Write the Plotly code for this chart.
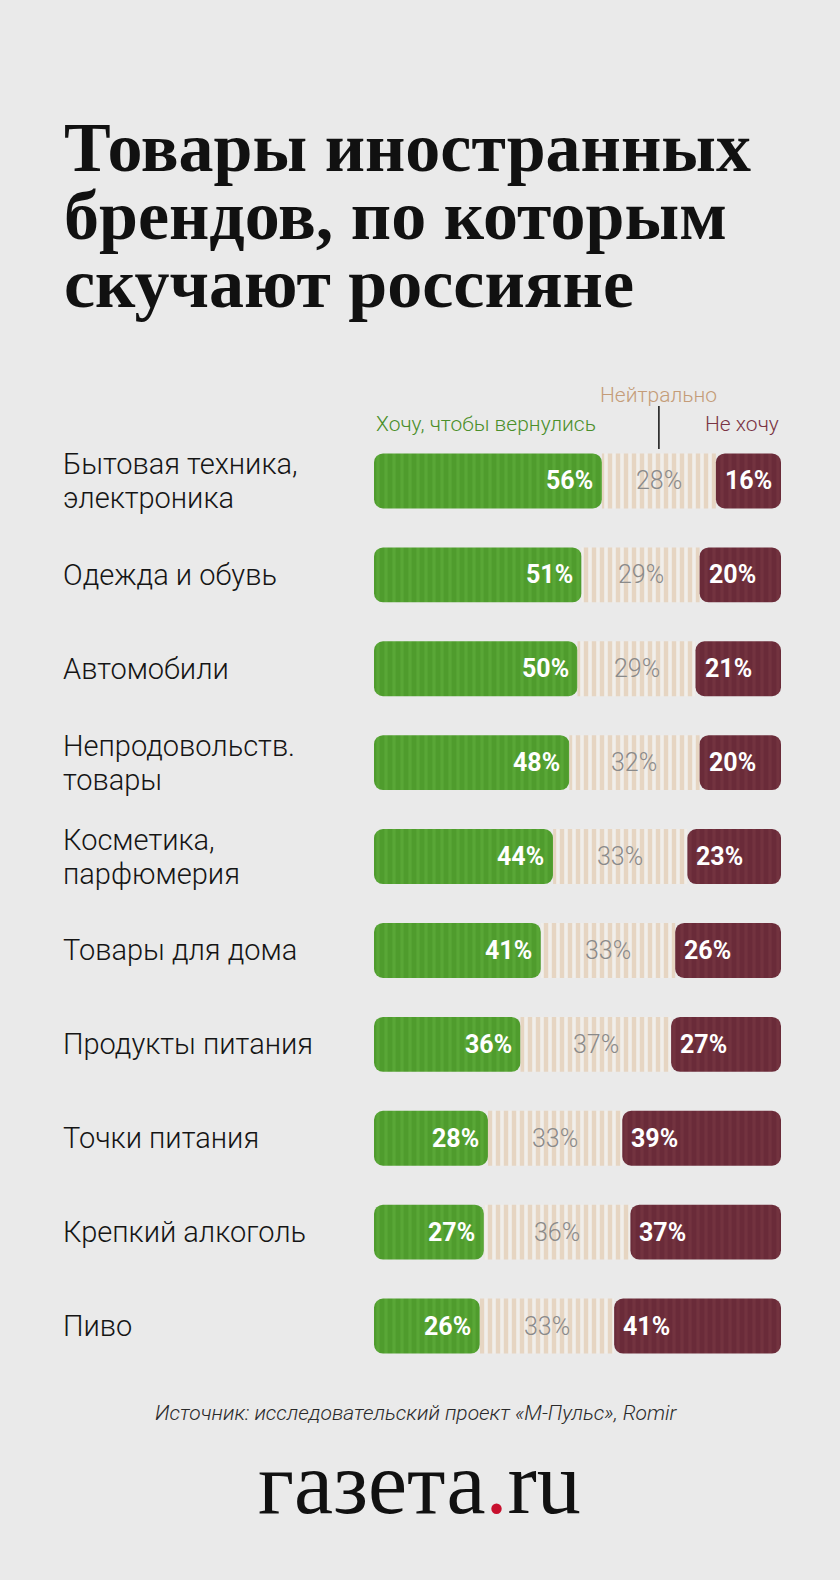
import plotly.graph_objects as go

# ---------------- data ----------------
categories = [
    "Бытовая техника,\nэлектроника",
    "Одежда и обувь",
    "Автомобили",
    "Непродовольств.\nтовары",
    "Косметика,\nпарфюмерия",
    "Товары для дома",
    "Продукты питания",
    "Точки питания",
    "Крепкий алкоголь",
    "Пиво",
]
want_back = [56, 51, 50, 48, 44, 41, 36, 28, 27, 26]
neutral = [28, 29, 29, 32, 33, 33, 37, 33, 36, 33]
dont_want = [16, 20, 21, 20, 23, 26, 27, 39, 37, 41]
legend_labels = ["Хочу, чтобы вернулись", "Нейтрально", "Не хочу"]
title_lines = ["Товары иностранных", "брендов, по которым", "скучают россияне"]
source_text = "Источник: исследовательский проект «М-Пульс», Romir"

# ---------------- layout constants ----------------
W, H = 840, 1580
L, R = 374, 781          # plot area x pixels
T, B = 434, 1373         # plot area y pixels
BG = "#eaeaea"
GREEN_BG, GREEN_FG = "#4f9c2d", "#59a736"
RED_BG, RED_FG = "#6a2b39", "#73333f"
NEU_BG, NEU_FG = "#f1eeea", "#e6d5c2"
RADIUS = 9
LABEL_SIZE = 29
LABEL_STEP = 34


def xp(x):
    return (x - L) / (R - L)


def yp(y):
    return (B - y) / (B - T)


def pattern(bg, fg, sol):
    return dict(shape="|", size=8, solidity=sol, fgcolor=fg, bgcolor=bg, fillmode="replace")


fig = go.Figure()

# green (explicit base -> all four corners rounded)
fig.add_trace(go.Bar(
    y=categories, x=want_back, base=[0] * len(want_back),
    orientation="h", marker=dict(color=GREEN_BG, cornerradius=RADIUS, line=dict(width=0),
                                 pattern=pattern(GREEN_BG, GREEN_FG, 0.4)),
    hoverinfo="skip", showlegend=False))
# neutral
fig.add_trace(go.Bar(
    y=categories, x=neutral, base=want_back,
    orientation="h", marker=dict(color=NEU_BG, cornerradius=0, line=dict(width=0),
                                 pattern=pattern(NEU_BG, NEU_FG, 0.55)),
    hoverinfo="skip", showlegend=False))
# red
fig.add_trace(go.Bar(
    y=categories, x=dont_want, base=[100 - r for r in dont_want],
    orientation="h", marker=dict(color=RED_BG, cornerradius=RADIUS, line=dict(width=0),
                                 pattern=pattern(RED_BG, RED_FG, 0.4)),
    hoverinfo="skip", showlegend=False))

ann = []
val_font_bold = dict(family="Roboto", size=25, color="white", weight=700)
val_font_light = dict(family="Roboto", size=25, color="#8a8a8a", weight=300)
for c, g, n, r in zip(categories, want_back, neutral, dont_want):
    ann.append(dict(x=g, y=c, xref="x", yref="y", text=f"{g}%", showarrow=False,
                    xanchor="right", xshift=-7, font=val_font_bold))
    ann.append(dict(x=g + n / 2, y=c, xref="x", yref="y", text=f"{n}%", showarrow=False,
                    xanchor="center", font=val_font_light))
    ann.append(dict(x=100 - r, y=c, xref="x", yref="y", text=f"{r}%", showarrow=False,
                    xanchor="left", xshift=7, font=val_font_bold))
    lines = c.split("\n")
    nl = len(lines)
    for i, line in enumerate(lines):
        ann.append(dict(x=xp(62), y=c, xref="paper", yref="y", text=line, showarrow=False,
                        xanchor="left", yanchor="middle",
                        yshift=((nl - 1) / 2 - i) * LABEL_STEP, borderpad=0,
                        font=dict(family="Roboto", size=LABEL_SIZE, color="#151515", weight=300)))

# title
for i, line in enumerate(title_lines):
    ann.append(dict(x=xp(63), y=yp(147 + i * 68.5), xref="paper", yref="paper", text=line,
                    showarrow=False, xanchor="left", yanchor="middle", borderpad=0,
                    font=dict(family="Liberation Serif", size=70, color="#111111", weight=700)))

# legend
ann.append(dict(x=0, y=yp(424), xref="x", yref="paper", text=legend_labels[0], showarrow=False,
                xanchor="left", yanchor="middle",
                font=dict(family="Roboto", size=21, color="#4a8f2a", weight=300)))
ann.append(dict(x=want_back[0] + neutral[0] / 2, y=yp(395), xref="x", yref="paper",
                text=legend_labels[1], showarrow=False, xanchor="center", yanchor="middle",
                font=dict(family="Roboto", size=21, color="#c49c78", weight=300)))
ann.append(dict(x=100, y=yp(424), xref="x", yref="paper", text=legend_labels[2], showarrow=False,
                xanchor="right", yanchor="middle",
                font=dict(family="Roboto", size=21, color="#7a3444", weight=300)))

# source
ann.append(dict(x=xp(416), y=yp(1413), xref="paper", yref="paper", text=source_text,
                showarrow=False, xanchor="center", yanchor="middle",
                font=dict(family="Roboto", size=21, color="#2a2a2a", weight=300, style="italic")))
# logo
ann.append(dict(x=xp(419), y=yp(1483), xref="paper", yref="paper",
                text="газета<span style='color:#c8102e'>.</span>ru",
                showarrow=False, xanchor="center", yanchor="middle",
                font=dict(family="Liberation Serif", size=88, color="#111111")))

shapes = [dict(type="line", xref="x", yref="paper",
               x0=want_back[0] + neutral[0] / 2, x1=want_back[0] + neutral[0] / 2,
               y0=yp(406), y1=yp(449), line=dict(color="#111111", width=1.5))]

fig.update_layout(
    width=W, height=H,
    margin=dict(l=L, r=W - R, t=T, b=H - B, pad=0),
    paper_bgcolor=BG, plot_bgcolor="rgba(0,0,0,0)",
    barmode="overlay", bargap=0.415,
    xaxis=dict(range=[0, 100], visible=False, fixedrange=True),
    yaxis=dict(categoryorder="array", categoryarray=categories, range=[9.5, -0.5],
               visible=False, fixedrange=True),
    annotations=ann, shapes=shapes, showlegend=False,
)

fig.write_html("out.html", config={"displayModeBar": False})
